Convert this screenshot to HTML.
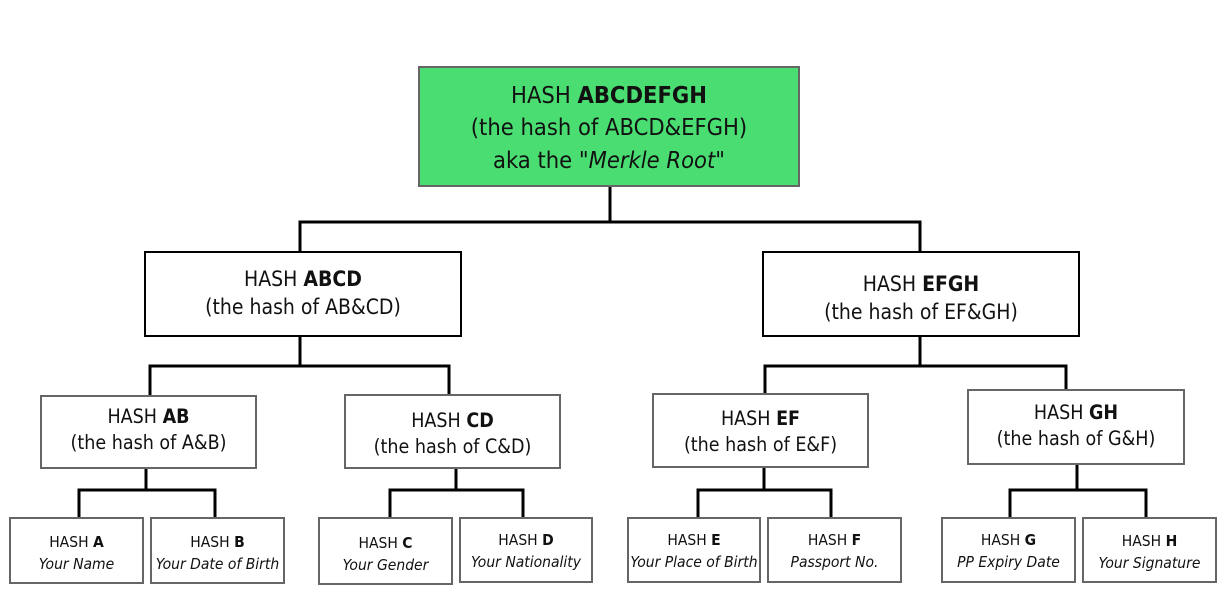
<!DOCTYPE html>
<html><head><meta charset="utf-8"><style>
body{margin:0;width:1226px;height:595px;background:#fff;position:relative;overflow:hidden;font-family:"DejaVu Sans Condensed","Liberation Sans",sans-serif;color:#111}
.b{position:absolute;box-sizing:border-box;display:flex;flex-direction:column;justify-content:center;align-items:center;text-align:center;background:#fff;border:2px solid #555;white-space:nowrap}
.b b{font-weight:bold}
.r{background:#4ade72;border:2px solid #666;font-size:23.5px;line-height:32.5px}
.m{border:2px solid #000;font-size:21px;line-height:28px}
.l{font-size:19.5px;line-height:26px;border-color:#666}
.s{font-size:15.5px;line-height:22px;border-color:#666}
svg{position:absolute;left:0;top:0}
</style></head><body>
<svg width="1226" height="595"><g stroke="#000" stroke-width="3" fill="none">
<path d="M610 186V222M300 252V222H920V252"/>
<path d="M300 336V366M150 395V366H449V394"/>
<path d="M920 336V366M765 393V366H1066V389"/>
<path d="M146 468V490M79 517V490H215V517"/>
<path d="M456 468V490M390 517V490H523V517"/>
<path d="M764 467V490M698 517V490H831V517"/>
<path d="M1077 464V490M1010 517V490H1146V517"/>
</g></svg>
<div class="b r" style="left:418px;top:66px;width:382px;height:121px;padding-top:2px"><div>HASH <b>ABCDEFGH</b></div><div>(the hash of ABCD&amp;EFGH)</div><div>aka the "<i>Merkle Root</i>"</div></div>
<div class="b m" style="left:144px;top:251px;width:318px;height:86px;padding-bottom:2px"><div>HASH <b>ABCD</b></div><div>(the hash of AB&amp;CD)</div></div>
<div class="b m" style="left:762px;top:251px;width:318px;height:86px;padding-top:8px"><div>HASH <b>EFGH</b></div><div>(the hash of EF&amp;GH)</div></div>
<div class="b l" style="left:40px;top:395px;width:217px;height:74px;padding-bottom:4px"><div>HASH <b>AB</b></div><div>(the hash of A&amp;B)</div></div>
<div class="b l" style="left:344px;top:394px;width:217px;height:75px;padding-top:4px"><div>HASH <b>CD</b></div><div>(the hash of C&amp;D)</div></div>
<div class="b l" style="left:652px;top:393px;width:217px;height:75px;padding-top:2px"><div>HASH <b>EF</b></div><div>(the hash of E&amp;F)</div></div>
<div class="b l" style="left:967px;top:389px;width:218px;height:76px;padding-bottom:2px"><div>HASH <b>GH</b></div><div>(the hash of G&amp;H)</div></div>
<div class="b s" style="left:9px;top:517px;width:135px;height:67px;padding-top:4px"><div>HASH <b>A</b></div><div><i>Your Name</i></div></div>
<div class="b s" style="left:150px;top:517px;width:135px;height:67px;padding-top:4px"><div>HASH <b>B</b></div><div><i>Your Date of Birth</i></div></div>
<div class="b s" style="left:318px;top:517px;width:135px;height:68px;padding-top:6px"><div>HASH <b>C</b></div><div><i>Your Gender</i></div></div>
<div class="b s" style="left:459px;top:517px;width:134px;height:66px;padding-top:2px"><div>HASH <b>D</b></div><div><i>Your Nationality</i></div></div>
<div class="b s" style="left:627px;top:517px;width:134px;height:66px;padding-top:2px"><div>HASH <b>E</b></div><div><i>Your Place of Birth</i></div></div>
<div class="b s" style="left:767px;top:517px;width:135px;height:66px;padding-top:2px"><div>HASH <b>F</b></div><div><i>Passport No.</i></div></div>
<div class="b s" style="left:941px;top:517px;width:135px;height:66px;padding-top:2px"><div>HASH <b>G</b></div><div><i>PP Expiry Date</i></div></div>
<div class="b s" style="left:1082px;top:517px;width:135px;height:66px;padding-top:4px"><div>HASH <b>H</b></div><div><i>Your Signature</i></div></div>
</body></html>
